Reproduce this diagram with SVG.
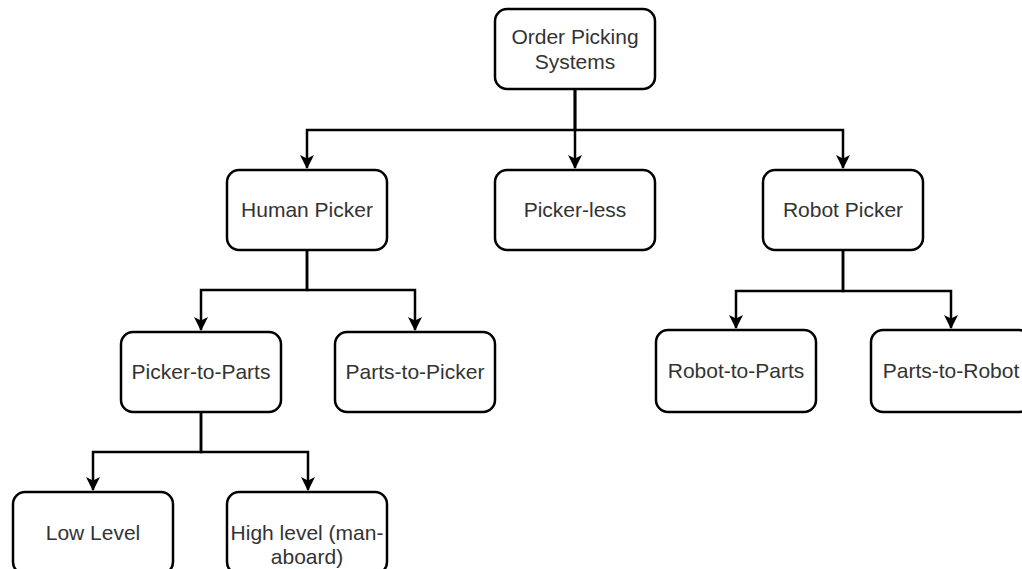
<svg xmlns="http://www.w3.org/2000/svg" width="1022" height="569" viewBox="0 0 1022 569">
  <style>
    .box { fill: #ffffff; stroke: #000000; stroke-width: 2.5; }
    .lbl { font-family: "Liberation Sans", Arial, sans-serif; font-size: 21px; fill: #333333; text-anchor: middle; }
    .edge { fill: none; stroke: #000000; stroke-width: 2.5; }
  </style>
  <defs>
    <marker id="arrow" viewBox="0 0 14 14" refX="13" refY="7" markerWidth="14" markerHeight="14" markerUnits="userSpaceOnUse" orient="auto">
      <path d="M0,0 L14,7 L0,14 L3.5,7 Z" fill="#000000"/>
    </marker>
  </defs>
  <rect width="1022" height="569" fill="#ffffff"/>

  <g id="connectors">
    <path class="edge" d="M575,89 V130 H307 V168" marker-end="url(#arrow)"/>
    <path class="edge" d="M575,89 V168" marker-end="url(#arrow)"/>
    <path class="edge" d="M575,89 V130 H843 V168" marker-end="url(#arrow)"/>
    <path class="edge" d="M307,250 V290 H201 V330" marker-end="url(#arrow)"/>
    <path class="edge" d="M307,250 V290 H415 V330" marker-end="url(#arrow)"/>
    <path class="edge" d="M843,250 V291 H736 V328" marker-end="url(#arrow)"/>
    <path class="edge" d="M843,250 V291 H951 V328" marker-end="url(#arrow)"/>
    <path class="edge" d="M201,412 V452 H93 V490" marker-end="url(#arrow)"/>
    <path class="edge" d="M201,412 V452 H308 V490" marker-end="url(#arrow)"/>
  </g>

  <g id="order-picking-systems">
    <rect class="box" x="495" y="9" width="160" height="80" rx="12"/>
    <text class="lbl" x="575" y="44">Order Picking</text>
    <text class="lbl" x="575" y="69">Systems</text>
  </g>
  <g id="human-picker">
    <rect class="box" x="227" y="170" width="160" height="80" rx="12"/>
    <text class="lbl" x="307" y="217">Human Picker</text>
  </g>
  <g id="picker-less">
    <rect class="box" x="495" y="170" width="160" height="80" rx="12"/>
    <text class="lbl" x="575" y="217">Picker-less</text>
  </g>
  <g id="robot-picker">
    <rect class="box" x="763" y="170" width="160" height="80" rx="12"/>
    <text class="lbl" x="843" y="217">Robot Picker</text>
  </g>
  <g id="picker-to-parts">
    <rect class="box" x="121" y="332" width="160" height="80" rx="12"/>
    <text class="lbl" x="201" y="379">Picker-to-Parts</text>
  </g>
  <g id="parts-to-picker">
    <rect class="box" x="335" y="332" width="160" height="80" rx="12"/>
    <text class="lbl" x="415" y="379">Parts-to-Picker</text>
  </g>
  <g id="robot-to-parts">
    <rect class="box" x="656" y="330" width="160" height="82" rx="12"/>
    <text class="lbl" x="736" y="378">Robot-to-Parts</text>
  </g>
  <g id="parts-to-robot">
    <rect class="box" x="871" y="330" width="160" height="82" rx="12"/>
    <text class="lbl" x="951" y="378">Parts-to-Robot</text>
  </g>
  <g id="low-level">
    <rect class="box" x="13" y="492" width="160" height="82" rx="12"/>
    <text class="lbl" x="93" y="540">Low Level</text>
  </g>
  <g id="high-level">
    <rect class="box" x="227" y="492" width="160" height="82" rx="12"/>
    <text class="lbl" x="307" y="540">High level (man-</text>
    <text class="lbl" x="307" y="564">aboard)</text>
  </g>
</svg>
